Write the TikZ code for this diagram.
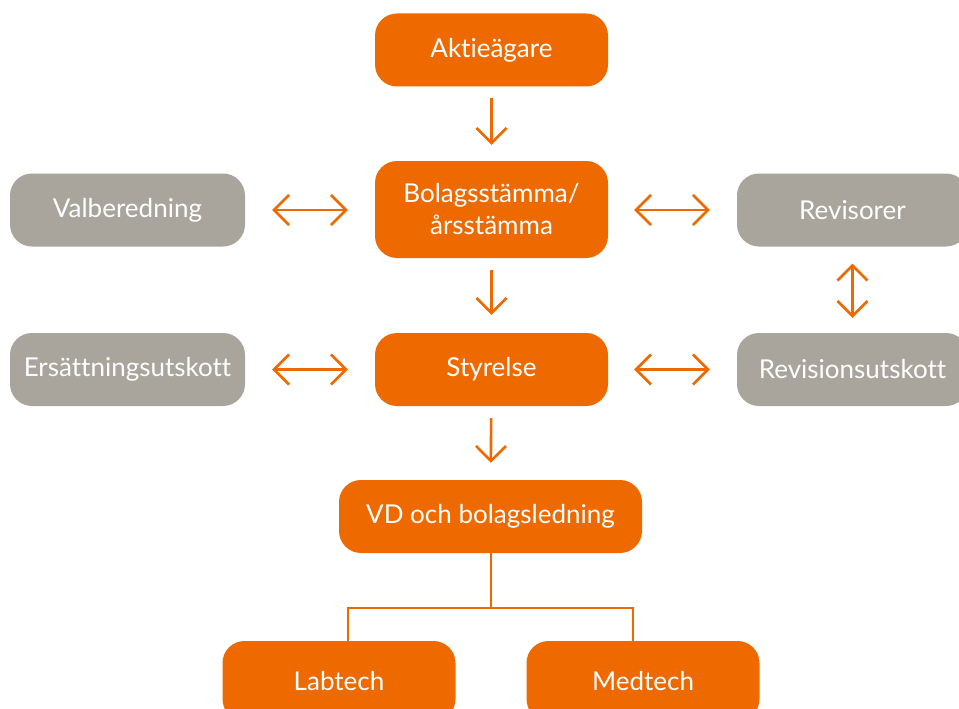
\documentclass[tikz,border=0pt]{standalone}
\usepackage{fontspec}
\setmainfont{Lato}[RawFeature=-liga]
\usetikzlibrary{arrows.meta}
\definecolor{org}{HTML}{EE6A00}
\definecolor{gry}{HTML}{A9A49C}
\tikzset{
  box/.style={rounded corners=22pt, inner sep=0pt, text=white, align=center,
    font=\fontsize{26}{32}\selectfont, minimum width=233pt, minimum height=73pt},
  obox/.style={box, fill=org},
  gbox/.style={box, fill=gry},
  barb/.style={Straight Barb[length=15pt,width=30pt,line width=2.6pt]},
  arr/.style={draw=org, line width=2.6pt, -{Straight Barb[length=15pt,width=30pt,line width=2.6pt]}},
  darr/.style={draw=org, line width=2.6pt, {Straight Barb[length=15pt,width=30pt,line width=2.6pt]}-{Straight Barb[length=15pt,width=30pt,line width=2.6pt]}},
  conn/.style={draw=org, line width=2pt}
}
\begin{document}
\begin{tikzpicture}[x=1pt,y=-1pt]
\fill[white] (0,0) rectangle (959,709);
\useasboundingbox (0,0) rectangle (959,709);
\clip (0,0) rectangle (959,709);
\node[obox] (akt) at (491.5,50) {Aktieägare};
\node[obox, minimum height=97pt] (bol) at (491.5,209.5) {Bolagsstämma/\\årsstämma};
\node[obox] (sty) at (491.5,369.5) {Styrelse};
\node[obox, minimum width=303pt] (vd) at (490.5,516.5) {VD och bolagsledning};
\node[obox, minimum height=80pt] (lab) at (339,681) {Labtech};
\node[obox, minimum height=80pt] (med) at (643,681) {Medtech};
\node[gbox, minimum width=235pt] (val) at (127.5,210) {Valberedning};
\node[gbox, minimum width=235pt] (ers) at (127.5,369.5) {Ersättningsutskott};
\node[gbox, minimum width=231pt] (rev) at (852.5,210) {Revisorer};
\node[gbox, minimum width=231pt] (rvu) at (852.5,369.5) {Revisionsutskott};
% arrows
\draw[arr, shorten <=11pt, shorten >=16pt] (akt) -- (bol);
\draw[arr, shorten <=12pt, shorten >=18pt] (bol) -- (sty);
\draw[arr, shorten <=12pt, shorten >=17pt] (sty) -- (vd);
\draw[darr, shorten <=27pt, shorten >=27pt] (val.east) -- (bol.west |- val.east);
\draw[darr, shorten <=27pt, shorten >=27pt] (ers) -- (sty);
\draw[darr, shorten <=26pt, shorten >=27pt] (bol.east |- rev.west) -- (rev.west);
\draw[darr, shorten <=26pt, shorten >=27pt] (sty) -- (rvu);
\draw[darr, shorten <=17pt, shorten >=15pt] (rev) -- (rvu);
% tree connectors
\coordinate (jn) at (491,608);
\coordinate (jl) at (347.5,608);
\coordinate (jr) at (633,608);
\draw[conn] (vd.south -| jn) -- (jn);
\draw[conn] (lab.north -| jl) -- (jl) -- (jr) -- (med.north -| jr);
\end{tikzpicture}
\end{document}
